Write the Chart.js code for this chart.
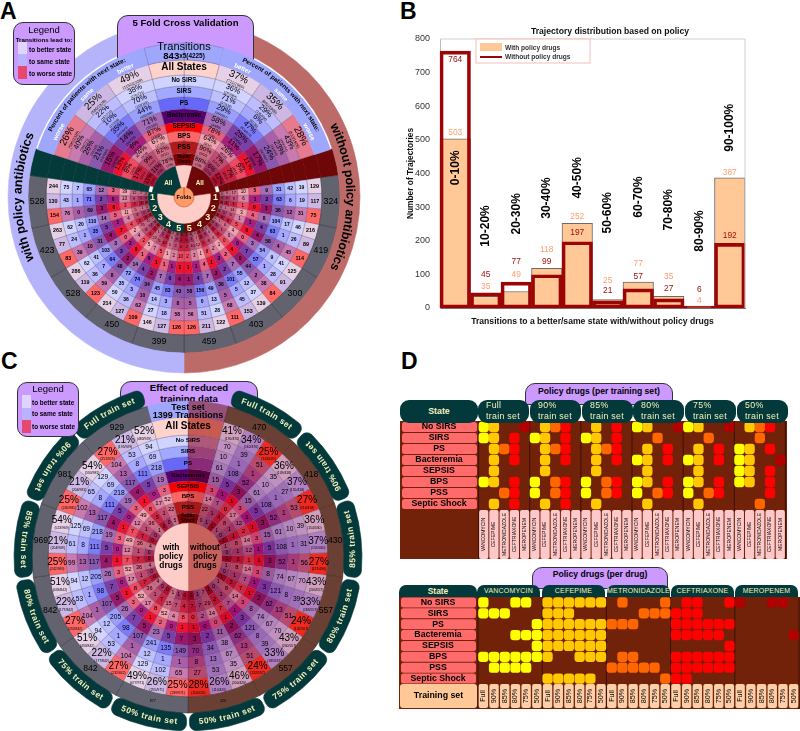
<!DOCTYPE html>
<html>
<head>
<meta charset="utf-8">
<title>Policy figure</title>
<script src="https://cdn.jsdelivr.net/npm/chart.js@4"></script>
<style>
html, body { margin: 0; background: #fff; }
body { position: relative; width: 800px; height: 731px; overflow: hidden; font-family: "Liberation Sans", sans-serif; color: #000; }
canvas { position: absolute; }
.box { position: absolute; box-sizing: border-box; }
.purple { background: #cc99ff; border: 1px solid #333; text-align: center; font-weight: bold; }
.teal { background: #03393a; color: #f6f2bb; font-weight: bold; }
.letter { position: absolute; font-size: 23px; font-weight: bold; line-height: 23px; }
.swatch { position: absolute; width: 9px; }
.item { position: absolute; font-size: 6.4px; font-weight: bold; white-space: nowrap; }
</style>
</head>
<body>
<div class="letter" style="left:0;top:0">A</div>
<div class="letter" style="left:400px;top:0">B</div>
<div class="letter" style="left:1px;top:350px">C</div>
<div class="letter" style="left:401px;top:350px">D</div>

<canvas id="wheelA1" style="z-index:1"></canvas>
<div class="box purple" style="left:117px;top:15px;width:137px;height:60px;border-radius:11px 11px 0 0;font-size:9.6px;padding-top:1px;z-index:2">5 Fold Cross Validation</div>
<canvas id="wheelA2" style="z-index:3"></canvas>
<div class="box purple" style="left:13px;top:22px;width:62px;height:63px;border-radius:10px;z-index:4">
  <div style="font-size:9.5px;line-height:11px;font-weight:normal;margin-top:1px">Legend</div>
  <div style="font-size:6.2px;line-height:9px;white-space:nowrap">Transitions lead to:</div>
  <div class="swatch" style="left:4px;top:19px;height:12px;background:#dfd5ff"></div>
  <div class="swatch" style="left:4px;top:31px;height:12px;background:#b9b2ff"></div>
  <div class="swatch" style="left:4px;top:43px;height:13px;background:#e8476f"></div>
  <div class="item" style="left:15px;top:23px">to better state</div>
  <div class="item" style="left:15px;top:35px">to same state</div>
  <div class="item" style="left:15px;top:47px">to worse state</div>
</div>

<canvas id="trajectoryChart" width="360" height="307" style="left:400px;top:20px"></canvas>

<div class="box purple" style="left:120px;top:381px;width:138px;height:50px;border-radius:11px 11px 0 0;font-size:9.6px;line-height:11px;z-index:1">Effect of reduced<br>training data</div>
<canvas id="wheelC" style="z-index:2"></canvas>
<div class="box purple" style="left:17px;top:382px;width:62px;height:55px;border-radius:10px;z-index:4">
  <div style="font-size:9.5px;line-height:11px;font-weight:normal">Legend</div>
  <div class="swatch" style="left:4px;top:12px;height:13px;background:#dfd5ff"></div>
  <div class="swatch" style="left:4px;top:25px;height:12px;background:#b9b2ff"></div>
  <div class="swatch" style="left:4px;top:37px;height:13px;background:#e8476f"></div>
  <div class="item" style="left:14px;top:16px">to better state</div>
  <div class="item" style="left:14px;top:27px">to same state</div>
  <div class="item" style="left:14px;top:40px">to worse state</div>
</div>

<div class="box purple" style="left:525px;top:383px;width:148px;height:22px;border-radius:10px 10px 0 0;font-size:8.6px;padding-top:2px">Policy drugs (per training set)</div>
<div id="headerTrain"></div>
<canvas id="policyTrain" width="387" height="138" style="left:400px;top:421px;background:#722208"></canvas>

<div class="box purple" style="left:532px;top:567px;width:136px;height:22px;border-radius:10px 10px 0 0;font-size:8.6px;padding-top:1px">Policy drugs (per drug)</div>
<div id="headerDrug"></div>
<canvas id="policyDrug" width="401" height="112" style="left:399px;top:597px;background:#722208"></canvas>

<script>
// ---------- panel A data ----------
const foldTotalsRight = ['324', '419', '300', '403', '459'];
const foldTotalsLeft = ['528', '423', '528', '450', '399'];
// rows run fold 1 better/same/worse ... fold 5 better/same/worse
const countsLeftA = [
    [244, 75, 7, 65, 12, 3, 39, 12, 2, 0], [130, 43, 1, 71, 2, 0, 13, 9, 1, 0], [154, 76, 0, 69, 3, 8, 3, 2, 1, 0],
    [263, 62, 20, 110, 14, 5, 11, 5, 1, 0], [77, 24, 1, 35, 5, 1, 4, 3, 1, 0], [83, 39, 10, 31, 4, 7, 4, 5, 0, 0],
    [286, 62, 41, 103, 3, 0, 2, 35, 10, 0], [119, 36, 7, 64, 3, 2, 4, 8, 1, 0], [123, 59, 8, 48, 2, 0, 2, 4, 1, 0],
    [214, 50, 35, 72, 14, 1, 5, 22, 1, 0], [127, 36, 3, 74, 4, 0, 7, 5, 1, 0], [109, 62, 10, 34, 2, 1, 5, 10, 0, 0],
    [146, 27, 14, 45, 7, 1, 1, 5, 0, 0], [127, 18, 3, 83, 0, 1, 2, 2, 0, 0], [126, 58, 8, 43, 4, 1, 10, 0, 1, 0],
];
const countsRightA = [
    [129, 19, 42, 31, 9, 5, 10, 17, 0, 0], [117, 19, 6, 63, 2, 1, 6, 9, 0, 0], [75, 31, 12, 36, 1, 0, 1, 3, 1, 0],
    [216, 46, 17, 104, 8, 4, 3, 14, 1, 0], [89, 26, 1, 63, 4, 1, 1, 5, 1, 0], [114, 45, 4, 58, 4, 0, 5, 8, 0, 0],
    [125, 41, 9, 54, 3, 0, 4, 6, 1, 0], [91, 28, 1, 57, 7, 0, 0, 1, 2, 0], [84, 38, 2, 44, 0, 4, 0, 0, 1, 0],
    [139, 37, 12, 55, 7, 2, 1, 6, 0, 0], [153, 45, 5, 101, 2, 3, 2, 8, 0, 1], [111, 68, 5, 36, 3, 1, 8, 5, 0, 0],
    [122, 28, 13, 49, 7, 4, 1, 12, 1, 0], [211, 51, 0, 156, 4, 1, 3, 10, 1, 0], [126, 56, 5, 58, 1, 1, 2, 2, 0, 1],
];
const leftBetterPct = ['49%', '38%', '70%', '44%', '71%', '87%', '67%', '82%', '78%'];
const leftSamePct = ['25%', '22%', '10%', '35%', '14%', '6%', '24%', '9%', '11%'];
const leftWorsePct = ['26%', '40%', '26%', '21%', '15%', '13%', '8%', '17%', '11%'];
const rightBetterPct = ['37%', '36%', '71%', '29%', '58%', '78%', '64%', '90%', '88%'];
const rightSamePct = ['35%', '29%', '6%', '47%', '25%', '11%', '26%', '7%', '6%'];
const rightWorsePct = ['28%', '43%', '23%', '24%', '17%', '11%', '9%', '7%', '12%'];
const leftBetterN = ['(1153/2328)', '(276/721)', '(119/169)', '(430/980)', '(73/103)', '(13/15)', '(17/25)', '(9/11)', '(7/9)'];
const leftSameN = ['(580/2328)', '(157/721)', '(17/169)', '(343/980)', '(14/103)', '(1/15)', '(6/25)', '(1/11)', '(1/9)'];
const leftWorseN = ['(595/2328)', '(288/721)', '(33/169)', '(207/980)', '(16/103)', '(2/15)', '(2/25)', '(2/11)', '(1/9)'];
const rightBetterN = ['(711/1905)', '(167/464)', '(97/136)', '(264/907)', '(34/58)', '(7/9)', '(9/14)', '(9/10)', '(7/8)'];
const rightSameN = ['(661/1905)', '(135/464)', '(8/136)', '(426/907)', '(15/58)', '(1/9)', '(4/14)', '(1/10)', '(1/16)'];
const rightWorseN = ['(533/1905)', '(199/464)', '(31/136)', '(217/907)', '(10/58)', '(1/9)', '(1/14)', '(1/14)', '(1/8)'];

// ---------- panel B data ----------
const rangeLabels = ['0-10%', '10-20%', '20-30%', '30-40%', '40-50%', '50-60%', '60-70%', '70-80%', '80-90%', '90-100%'];
const withPolicy = [503, 35, 49, 118, 252, 25, 77, 35, 4, 387];
const withoutPolicy = [764, 45, 77, 99, 197, 21, 57, 27, 6, 192];

// ---------- panel C data ----------
const trainTotalsRight = ['470', '418', '430', '557', '557', '426'];
const trainTotalsLeft = ['929', '981', '969', '842', '842', '877'];
const trainNames = ['Full train set', '90% train set', '85% train set', '80% train set', '75% train set', '50% train set'];
const reducedLeftPct = ['52%', '21%', '27%', '54%', '21%', '25%', '54%', '21%', '25%', '51%', '22%', '27%', '51%', '22%', '27%', '49%', '26%', '25%'];
const reducedLeftN = ['(483/929)', '(195/929)', '(251/929)', '(530/981)', '(206/981)', '(245/981)', '(523/969)', '(204/969)', '(242/969)', '(433/842)', '(177/842)', '(232/842)', '(433/842)', '(177/842)', '(232/842)', '(477/971)', '(255/971)', '(239/971)'];
const reducedRightPct = ['41%', '34%', '25%', '36%', '37%', '27%', '36%', '37%', '27%', '43%', '33%', '24%', '43%', '33%', '24%', '46%', '26%', '28%'];
const reducedRightN = ['(195/470)', '(162/470)', '(113/470)', '(149/418)', '(155/418)', '(114/418)', '(154/430)', '(159/430)', '(117/430)', '(240/557)', '(185/557)', '(132/557)', '(240/557)', '(185/557)', '(132/557)', '(200/426)', '(110/426)', '(116/426)'];
const reducedLeft = [
    [94, 69, 218, 19, 3, 52, 22, 5], [53, 8, 111, 5, 0, 17, 1, 0], [104, 13, 117, 4, 1, 8, 5, 0],
    [129, 69, 218, 19, 3, 49, 36, 1], [65, 8, 111, 5, 0, 12, 1, 0], [102, 13, 117, 4, 1, 7, 7, 0],
    [125, 69, 218, 19, 3, 49, 36, 4], [61, 8, 111, 5, 0, 12, 1, 0], [99, 13, 117, 4, 1, 7, 7, 0],
    [94, 12, 205, 26, 3, 52, 36, 4], [53, 1, 98, 7, 0, 17, 1, 0], [104, 1, 107, 5, 1, 8, 7, 0],
    [94, 12, 205, 26, 3, 52, 36, 4], [53, 1, 98, 7, 0, 17, 1, 0], [104, 1, 107, 5, 1, 8, 7, 0],
    [129, 12, 241, 23, 2, 52, 15, 1], [102, 1, 135, 5, 0, 4, 7, 1], [65, 1, 149, 7, 1, 8, 4, 0],
];
const reducedRight = [
    [70, 10, 61, 15, 3, 14, 22, 0], [39, 1, 108, 5, 1, 7, 1, 1], [51, 1, 52, 3, 1, 0, 4, 1],
    [35, 10, 61, 15, 3, 17, 8, 1], [27, 1, 108, 5, 1, 12, 1, 0], [53, 1, 52, 3, 1, 2, 1, 1],
    [39, 10, 61, 15, 3, 14, 8, 1], [31, 1, 108, 5, 1, 12, 1, 0], [56, 1, 52, 3, 1, 1, 2, 1],
    [70, 67, 74, 8, 3, 14, 8, 1], [39, 8, 121, 3, 1, 7, 1, 0], [51, 13, 62, 2, 1, 7, 2, 1],
    [70, 67, 74, 8, 3, 14, 8, 1], [39, 8, 121, 3, 1, 7, 1, 0], [51, 13, 62, 2, 1, 7, 2, 1],
    [35, 67, 38, 11, 0, 14, 29, 7], [53, 13, 34, 2, 0, 2, 7, 1], [27, 8, 70, 3, 1, 0, 7, 2],
];

// ---------- panel D data ----------
const states = ['No SIRS', 'SIRS', 'PS', 'Bacteremia', 'SEPSIS', 'BPS', 'PSS', 'Septic Shock'];
const drugs = ['VANCOMYCIN', 'CEFEPIME', 'METRONIDAZOLE', 'CEFTRIAXONE', 'MEROPENEM'];
const trainSets = ['Full', '90%', '85%', '80%', '75%', '50%'];
// for every state: the training sets (index into trainSets) that use the drug
const vancomycin = [[0, 3, 4], [0, 1, 2], [5], [3, 4, 5], [5], [0, 1, 2, 3, 4, 5], [1, 2, 3, 4], []];
const cefepime = [[0, 1, 2, 3, 4, 5], [0, 1, 2], [0, 1, 2, 3, 4, 5], [0, 1, 2, 3, 4, 5], [0, 1, 2, 3, 4, 5], [0, 3, 4, 5], [], [0, 1, 2, 3, 4]];
const metronidazole = [[1, 5], [3, 4, 5], [0, 1, 2], [], [], [1, 2], [0, 1, 2, 3, 4], [5]];
const ceftriaxone = [[1, 2, 5], [0, 1, 2], [0, 1, 2, 3, 4, 5], [0, 1, 2, 3, 4], [5], [0, 1, 2, 3, 4, 5], [0, 1, 2, 3, 4, 5], [0, 1]];
const meropenem = [[0, 3, 4], [], [], [5], [], [], [], []];

// ---------- styles ----------
const none = 'rgba(0,0,0,0)';
const ink = '#000';
const cream = '#f6f2bb';
const seam = 'rgba(70,60,90,0.45)';
const betterShade = ['#e6d0e6', '#d2d4ff', '#bcc0ff', '#9a9efc', '#a66cb6', '#e9607f', '#f2a0ad', '#d66a84', '#c86a84', '#c06070'];
const sameShade = ['#ccb8e2', '#bcbcff', '#a6a8ff', '#7c7cfa', '#7a3fa8', '#a81f80', '#dd7fa0', '#c04a70', '#a83060', '#a03050'];
const worseShade = ['#ff6666', '#c97ab0', '#aa60a8', '#8b58b0', '#98186c', '#f01030', '#ef4a60', '#cc2040', '#b01030', '#a01020'];
const shades = [betterShade, sameShade, worseShade];
const darkBetter = ['#cf9fbc', '#c090c0', '#b585bd', '#a878b8', '#9b5aa0', '#d04070', '#d07090', '#b84060', '#a84060'];
const darkSame = ['#b080c0', '#a070b8', '#9a68b8', '#8a58b0', '#7a3098', '#a01070', '#b04880', '#a03060', '#903060'];
const darkWorse = ['#ee2a20', '#b84a70', '#a83a78', '#8f2c80', '#8c1058', '#d80828', '#d02840', '#b81030', '#980020'];
const darkShades = [darkBetter, darkSame, darkWorse];
const stateRow = ['#ffd3cb', '#cfd3ff', '#a0a8ff', '#6868f8', '#5a0070', '#ff0000', '#ff6666', '#b01a1a', '#8b0000'];
const stateRowDark = ['#c85a50', '#b05878', '#9c4078', '#8a2a78', '#5a0040', '#ee0000', '#e04a4a', '#a81818', '#800000'];
const drugColors = ['#ffff00', '#ffc800', '#ff6600', '#ff0000', '#b00000'];

Chart.defaults.font.family = '"Liberation Sans", sans-serif';

// ---------- helpers ----------
function fontOf(size, bold) {
    return (bold ? 'bold ' : '') + size + 'px "Liberation Sans", sans-serif';
}

function paintLines(ctx, x, y, lines, rot) {
    const total = lines.reduce((a, l) => a + (l.lead || l.size * 1.08), 0);
    ctx.save();
    ctx.translate(x, y);
    ctx.rotate(rot || 0);
    ctx.textAlign = 'center';
    ctx.textBaseline = 'middle';
    let top = -total / 2;
    lines.forEach(l => {
        const lead = l.lead || l.size * 1.08;
        ctx.fillStyle = l.color || ink;
        ctx.font = fontOf(l.size, l.bold);
        if (l.tail) {
            // big figure followed by a small one on the same line
            const w1 = ctx.measureText(l.s).width;
            ctx.font = fontOf(l.tailSize, l.bold);
            const w2 = ctx.measureText(l.tail).width;
            ctx.textAlign = 'left';
            ctx.fillText(l.tail, -(w1 + w2) / 2 + w1, top + lead / 2);
            ctx.font = fontOf(l.size, l.bold);
            ctx.fillText(l.s, -(w1 + w2) / 2, top + lead / 2);
            ctx.textAlign = 'center';
        } else {
            ctx.fillText(l.s, 0, top + lead / 2);
        }
        top += lead;
    });
    ctx.restore();
}

function curvedText(ctx, cx, cy, t) {
    ctx.save();
    ctx.font = t.font;
    ctx.fillStyle = t.color || ink;
    ctx.textAlign = 'center';
    ctx.textBaseline = 'middle';
    const gap = t.gap || 0;
    const widths = [...t.text].map(c => ctx.measureText(c).width + gap);
    const full = widths.reduce((a, b) => a + b, 0);
    const sign = t.ccw ? -1 : 1;
    let run = -full / 2;
    [...t.text].forEach((c, i) => {
        const a = t.mid * Math.PI / 180 + sign * (run + widths[i] / 2) / t.r;
        ctx.save();
        ctx.translate(cx + t.r * Math.sin(a), cy - t.r * Math.cos(a));
        ctx.rotate(t.ccw ? a + Math.PI : a);
        ctx.fillText(c, 0, 0);
        ctx.restore();
        run += widths[i];
    });
    ctx.restore();
}

function ring(weight, sectors, extra) {
    return Object.assign({
        weight: weight,
        data: sectors.map(s => s.span),
        backgroundColor: sectors.map(s => s.color || none),
        borderColor: sectors.map(s => s.line || s.color || none),
        borderWidth: sectors.map(s => s.color ? 0.6 : 0),
        sectors: sectors,
    }, extra || {});
}

function makeWheel(id, cx, cy, R, datasets, arcTexts) {
    const el = document.getElementById(id);
    const size = 2 * R + 4;
    el.width = size;
    el.height = size;
    el.style.left = (cx - R - 2) + 'px';
    el.style.top = (cy - R - 2) + 'px';
    return new Chart(el, {
        type: 'doughnut',
        data: { labels: datasets[0].data.map((d, i) => i), datasets: datasets },
        options: {
            responsive: false,
            animation: false,
            events: [],
            radius: R,
            cutout: 0,
            plugins: { legend: { display: false }, tooltip: { enabled: false } },
        },
        plugins: [{
            id: 'wheelText',
            afterDatasetsDraw(chart) {
                const ctx = chart.ctx;
                chart.data.datasets.forEach((ds, di) => {
                    chart.getDatasetMeta(di).data.forEach((arc, i) => {
                        const sec = ds.sectors[i];
                        if (sec.lines) {
                            const p = arc.getCenterPoint();
                            const mid = (arc.startAngle + arc.endAngle) / 2;
                            paintLines(ctx, p.x, p.y, sec.lines, sec.turn ? mid + Math.PI / 2 : 0);
                        }
                        if (sec.top) {
                            paintLines(ctx, arc.x, arc.y - (arc.innerRadius + arc.outerRadius) / 2 + (sec.topShift || 0), sec.top, 0);
                        }
                    });
                });
                const a0 = chart.getDatasetMeta(0).data[0];
                (arcTexts || []).forEach(t => curvedText(ctx, a0.x, a0.y, t));
            },
        }],
    });
}

// ---------- panel A wheels ----------
const FOLD_SWEEP = 98 / 15;   // one better/same/worse wedge of a fold
const gapA = { span: 72 };
const wedgeRight = '#6e0707';
const wedgeLeft = '#043b3a';

function lowerCells(col) {
    const size = [5.4, 5, 5, 5, 5, 4.8, 4.5, 4, 3.4, 3][col];
    const cell = (row, i) => ({
        span: FOLD_SWEEP,
        color: shades[i % 3][col],
        line: seam,
        lines: [{ s: String(row[col]), size: size, bold: col < 6 }],
    });
    const right = countsRightA.map(cell);
    // going on clockwise: fold 5 worse first, fold 1 better last
    const left = countsLeftA.map(cell).reverse();
    return [gapA, { span: 10, color: wedgeRight }, ...right, ...left, { span: 10, color: wedgeLeft }, gapA];
}

const foldNums = [1, 2, 3, 4, 5];
const wheelALower = [
    ring(20, [{ span: 180, color: '#bd6b69' }, { span: 180, color: '#b5b4fb' }]),
    ring(18, [gapA, { span: 10, color: wedgeRight },
        ...foldTotalsRight.map(t => ({ span: FOLD_SWEEP * 3, color: '#62636f', line: '#3c3d47', lines: [{ s: t, size: 8.8 }] })),
        ...foldTotalsLeft.slice().reverse().map(t => ({ span: FOLD_SWEEP * 3, color: '#62636f', line: '#3c3d47', lines: [{ s: t, size: 8.8 }] })),
        { span: 10, color: wedgeLeft }, gapA]),
    ...[14, 12, 11, 12, 12, 12, 11, 8, 6, 4].map((w, c) => ring(w, lowerCells(c))),
    ring(9, [{ span: 82 },
        ...foldNums.map(n => ({ span: FOLD_SWEEP * 3, color: wedgeRight, lines: [{ s: String(n), size: 9, bold: true, color: cream }] })),
        ...foldNums.slice().reverse().map(n => ({ span: FOLD_SWEEP * 3, color: wedgeLeft, lines: [{ s: String(n), size: 9, bold: true, color: cream }] })),
        { span: 82 }]),
    ring(27, [{ span: 82 }, { span: 196, color: '#ffcdc8' }, { span: 82 }]),
];

makeWheel('wheelA1', 184, 197, 176, wheelALower, [
    { text: 'without policy antibiotics', r: 166, mid: 90, font: fontOf(12.6, true) },
    { text: 'with policy antibiotics', r: 166, mid: 270, font: fontOf(12.6, true) },
]);

const pctSizeA = [10, 7.6, 7.6, 7.6, 7.6, 7, 7, 6.5, 6];
function upperRow(r, middle) {
    const cell = (pct, n, k) => ({
        span: 19,
        color: r === 0 && k === 2 ? '#e87a90' : shades[k][r],
        line: seam,
        turn: true,
        lines: [{ s: pct[r], size: pctSizeA[r] }, { s: n[r], size: r === 0 ? 4 : 3.3 }],
    });
    const mid2 = Object.assign({}, middle);
    delete mid2.top;
    return [middle,
        cell(rightBetterPct, rightBetterN, 0), cell(rightSamePct, rightSameN, 1), cell(rightWorsePct, rightWorseN, 2),
        { span: 216 },
        cell(leftWorsePct, leftWorseN, 2), cell(leftSamePct, leftSameN, 1), cell(leftBetterPct, leftBetterN, 0),
        mid2];
}
const middleLabel = (text, size, bold) => [{ s: text, size: size, bold: bold }];
const bandA = '#9fa7fd';
const wheelAUpper = [
    ring(17, [{ span: 15, color: bandA, line: seam,
        top: [{ s: 'Transitions', size: 11, lead: 9 }, { s: '843', size: 9.6, tail: 'x5(4225)', tailSize: 6.4, bold: true, lead: 9 }] },
        { span: 57, color: bandA }, { span: 216 }, { span: 57, color: bandA }, { span: 15, color: bandA, line: seam }]),
    ring(15, upperRow(0, { span: 15, color: stateRow[0], line: seam, top: middleLabel('All States', 10, true) })),
    ring(11, upperRow(1, { span: 15, color: stateRow[1], line: seam, top: middleLabel(states[0], 6.4, true) })),
    ring(11, upperRow(2, { span: 15, color: stateRow[2], line: seam, top: middleLabel(states[1], 6.4, true) })),
    ring(12, upperRow(3, { span: 15, color: stateRow[3], line: seam, top: middleLabel(states[2], 6.4, true) })),
    ring(13, upperRow(4, { span: 15, color: stateRow[4], line: seam, top: middleLabel(states[3], 6.4, true) })),
    ring(9, upperRow(5, { span: 15, color: stateRow[5], line: seam, top: middleLabel(states[4], 6.4, true) })),
    ring(10, upperRow(6, { span: 15, color: stateRow[6], line: seam, top: middleLabel(states[5], 6.4, true) })),
    ring(12, upperRow(7, { span: 15, color: stateRow[7], line: seam, top: middleLabel(states[6], 6.4, true) })),
    ring(12, upperRow(8, { span: 15, color: stateRow[8], line: seam, top: [{ s: 'Septic', size: 4.6, bold: true }, { s: 'Shock', size: 4.6, bold: true }] })),
    ring(22, [{ span: 15, color: '#ffcdc8' },
        { span: 67, color: wedgeRight, lines: [{ s: 'All', size: 6.4, bold: true, color: cream }] },
        { span: 196 },
        { span: 67, color: wedgeLeft, lines: [{ s: 'All', size: 6.4, bold: true, color: cream }] },
        { span: 15, color: '#ffcdc8' }]),
    ring(10, [{ span: 360, color: '#ff9a66', line: '#b85a20', top: [{ s: 'Folds', size: 5.6, bold: true }], topShift: 5 }]),
];

const ringBold = fontOf(6.4, true);
makeWheel('wheelA2', 184, 197, 154, wheelAUpper, [
    { text: 'Percent of patients with next state:', r: 149, mid: 316.5, font: ringBold },
    { text: 'Percent of patients with next state:', r: 149, mid: 43.5, font: ringBold },
    { text: 'better', r: 141, mid: 335.5, font: ringBold, color: '#fff' },
    { text: 'same', r: 141, mid: 316.5, font: ringBold, color: '#fff' },
    { text: 'worse', r: 141, mid: 297.5, font: ringBold, color: '#fff' },
    { text: 'better', r: 141, mid: 24.5, font: ringBold, color: '#fff' },
    { text: 'same', r: 141, mid: 43.5, font: ringBold, color: '#fff' },
    { text: 'worse', r: 141, mid: 62.5, font: ringBold, color: '#fff' },
]);

// ---------- panel C wheel ----------
const TRAIN_SWEEP = 165 / 18;
const countSize = [6.6, 6.6, 6.6, 6.6, 6.2, 6, 5.6, 5];

function reducedRing(col) {
    // col 0 is the "All States" ring, the others are the eight states
    const rightCell = (rowIdx) => {
        const lines = col === 0
            ? [{ s: reducedRightPct[rowIdx], size: 10 }, { s: reducedRightN[rowIdx], size: 3.4 }]
            : [{ s: String(reducedRight[rowIdx][col - 1]), size: countSize[col - 1] }];
        return { span: TRAIN_SWEEP, color: darkShades[rowIdx % 3][col], line: seam, lines: lines };
    };
    const leftCell = (rowIdx) => {
        const lines = col === 0
            ? [{ s: reducedLeftPct[rowIdx], size: 10 }, { s: reducedLeftN[rowIdx], size: 3.4 }]
            : [{ s: String(reducedLeft[rowIdx][col - 1]), size: countSize[col - 1] }];
        return { span: TRAIN_SWEEP, color: shades[rowIdx % 3][col], line: seam, lines: lines };
    };
    const right = reducedRight.map((r, i) => rightCell(i));
    const left = reducedLeft.map((r, i) => leftCell(i)).reverse();
    const midLabel = col === 0 ? middleLabel('All States', 10, true) : col === 8
        ? [{ s: 'Septic', size: 4.6, bold: true }, { s: 'Shock', size: 4.6, bold: true }]
        : middleLabel(states[col - 1], 6.2, true);
    return [{ span: 15, color: stateRowDark[col], line: seam }, ...right, ...left,
        { span: 15, color: stateRow[col], line: seam, top: midLabel }];
}

const tabSectors = () => trainNames.map(() => [{ span: 26.5, color: '#03393a' }, { span: 1 }]).flat();
const wheelCData = [
    ring(18, [{ span: 15.5 }, ...tabSectors(), { span: 0 }, ...tabSectors(), { span: 14.5 }], { borderRadius: 7 }),
    ring(16, [{ span: 15, color: '#98507c' },
        ...trainTotalsRight.map((t, i) => ({ span: TRAIN_SWEEP * 3, color: '#6b4034', line: '#4a2a22', lines: [{ s: t, size: i === 5 ? 3.6 : 8.6 }] })),
        ...trainTotalsLeft.slice().reverse().map((t, i) => ({ span: TRAIN_SWEEP * 3, color: '#62636f', line: '#3c3d47', lines: [{ s: t, size: i === 0 ? 3.6 : 8.6 }] })),
        { span: 15, color: bandA, top: [{ s: 'Test set', size: 9, bold: true, lead: 8 }, { s: '1399 Transitions', size: 9, bold: true, lead: 8 }], topShift: 3 }]),
    ...[18, 11, 11, 12, 12, 10, 10, 12, 10].map((w, c) => ring(w, reducedRing(c))),
    ring(34, [{ span: 180, color: '#c8605c', lines: [{ s: 'without', size: 8.4, bold: true }, { s: 'policy', size: 8.4, bold: true }, { s: 'drugs', size: 8.4, bold: true }] },
        { span: 180, color: '#ffcdc8', lines: [{ s: 'with', size: 8.4, bold: true }, { s: 'policy', size: 8.4, bold: true }, { s: 'drugs', size: 8.4, bold: true }] }]),
];

const tabFont = fontOf(8.4, true);
const tabTexts = trainNames.map((name, i) => ({
    text: name, r: 165, mid: 15 + 13.75 + i * 27.5, font: tabFont, color: cream, gap: 0.5, ccw: i > 0,
})).concat(trainNames.map((name, i) => ({
    text: name, r: 165, mid: 345 - 13.75 - i * 27.5, font: tabFont, color: cream, gap: 0.5, ccw: i > 0,
})));

makeWheel('wheelC', 188, 557, 174, wheelCData, tabTexts);

// ---------- panel B bars ----------
// where the text of each bar sits, in axis units
const withLabelAt = [521, 62, 98, 173, 271, 80, 131, 92, 21, 402];
const withoutLabelAt = [738, 98, 137, 137, 223, 51, 92, 56, 53, 214];
const rangeLabelAt = [417, 244, 280, 327, 387, 283, 330, 292, 229, 536];

new Chart(document.getElementById('trajectoryChart'), {
    type: 'bar',
    data: {
        labels: rangeLabels,
        datasets: [
            {
                label: 'Without policy drugs',
                data: withoutPolicy,
                backgroundColor: none,
                borderColor: '#9c0505',
                borderWidth: 3,
                borderSkipped: false,
                grouped: false,
                barPercentage: 1,
                categoryPercentage: 1,
                order: 1,
            },
            {
                label: 'With policy drugs',
                data: withPolicy,
                backgroundColor: '#ffc896',
                borderColor: '#6a6a6a',
                borderWidth: { top: 1, right: 1, left: 1, bottom: 0 },
                borderSkipped: false,
                grouped: false,
                barPercentage: 1,
                categoryPercentage: 1,
                order: 2,
            },
        ],
    },
    options: {
        responsive: false,
        animation: false,
        events: [],
        clip: false,
        layout: { padding: { top: 19, right: 15, left: 6 } },
        plugins: { legend: { display: false }, tooltip: { enabled: false } },
        scales: {
            x: {
                grid: { display: false },
                border: { color: '#777' },
                ticks: { display: false },
                title: { display: true, text: 'Transitions to a better/same state with/without policy drugs', font: { size: 8.6, weight: 'bold' }, color: '#111', padding: { top: 2, bottom: 0 } },
                afterFit(s) { s.height = 19; },
            },
            y: {
                min: 0,
                max: 800,
                grid: { display: false },
                border: { color: '#bbb' },
                ticks: { stepSize: 100, font: { size: 9 }, color: '#333', padding: 2 },
                title: { display: true, text: 'Number of Trajectories', font: { size: 8.4, weight: 'bold' }, color: '#111', padding: 0 },
                afterFit(s) { s.width = 34; },
            },
        },
    },
    plugins: [{
        id: 'barText',
        afterDraw(chart) {
            const ctx = chart.ctx;
            const { left, right, top } = chart.chartArea;
            const x = chart.scales.x;
            const y = chart.scales.y;
            ctx.save();
            ctx.strokeStyle = '#cfcfcf';
            ctx.lineWidth = 1;
            ctx.beginPath();
            ctx.moveTo(left, top);
            ctx.lineTo(right, top);
            ctx.lineTo(right, y.getPixelForValue(0));
            ctx.stroke();
            ctx.restore();
            paintLines(ctx, 210, 12, [{ s: 'Trajectory distribution based on policy', size: 8.6, bold: true, color: '#111' }]);
            rangeLabels.forEach((name, i) => {
                const px = x.getPixelForValue(i);
                paintLines(ctx, px, y.getPixelForValue(rangeLabelAt[i]), [{ s: name, size: 12, bold: true }], -Math.PI / 2);
                paintLines(ctx, px, y.getPixelForValue(withLabelAt[i]), [{ s: String(withPolicy[i]), size: 8.4, color: '#ff9e6e' }]);
                paintLines(ctx, px, y.getPixelForValue(withoutLabelAt[i]), [{ s: String(withoutPolicy[i]), size: 8.4, color: '#a01010' }]);
            });
            // legend box
            const bx = 76, by = 19;
            ctx.save();
            ctx.fillStyle = 'rgba(255,255,255,0.85)';
            ctx.strokeStyle = '#f6bcbc';
            ctx.lineWidth = 1;
            ctx.fillRect(bx, by, 114, 24);
            ctx.strokeRect(bx, by, 114, 24);
            ctx.fillStyle = '#ffc896';
            ctx.fillRect(bx + 4, by + 4, 22, 8);
            ctx.fillStyle = '#9c0505';
            ctx.fillRect(bx + 4, by + 17, 22, 2);
            ctx.textAlign = 'left';
            ctx.textBaseline = 'middle';
            ctx.font = fontOf(6.6, true);
            ctx.fillStyle = '#333';
            ctx.fillText('With policy drugs', bx + 29, by + 9);
            ctx.fillText('Without policy drugs', bx + 29, by + 18);
            ctx.restore();
        },
    }],
});

// ---------- panel D matrices ----------
function matrixPlugin(groupSize, bottom) {
    return {
        id: 'matrixText',
        beforeDatasetsDraw(chart) {
            const ctx = chart.ctx;
            const x = chart.scales.x;
            const h = chart.height;
            ctx.save();
            ctx.strokeStyle = '#3a1003';
            ctx.lineWidth = 1;
            for (let c = 0; c <= 30; c += groupSize) {
                const px = x.getPixelForValue(c - 0.5);
                ctx.beginPath();
                ctx.moveTo(px, 0);
                ctx.lineTo(px, h);
                ctx.stroke();
            }
            ctx.restore();
        },
        afterDraw(chart) {
            const ctx = chart.ctx;
            const x = chart.scales.x;
            const y = chart.scales.y;
            states.forEach((s, i) => {
                const py = y.getPixelForValue(i);
                ctx.save();
                ctx.fillStyle = '#ff6b6b';
                ctx.beginPath();
                ctx.roundRect(2, py - 5, 75, 10, 2.5);
                ctx.fill();
                ctx.restore();
                paintLines(ctx, 39, py, [{ s: s, size: 8.8, bold: true }]);
            });
            bottom(ctx, x, chart.height);
        },
    };
}

function matrixDatasets(place) {
    return [vancomycin, cefepime, metronidazole, ceftriaxone, meropenem].map((table, d) => ({
        label: drugs[d],
        data: table.flatMap((sets, s) => sets.map(t => ({ x: place(t, d), y: s }))),
        pointStyle: 'rectRounded',
        pointRadius: 6,
        backgroundColor: drugColors[d],
        borderWidth: 0,
    }));
}

function makeMatrix(id, padding, datasets, plugin) {
    return new Chart(document.getElementById(id), {
        type: 'scatter',
        data: { datasets: datasets },
        options: {
            responsive: false,
            animation: false,
            events: [],
            clip: false,
            layout: { autoPadding: false, padding: padding },
            plugins: { legend: { display: false }, tooltip: { enabled: false } },
            scales: {
                x: { display: false, min: -0.5, max: 29.5 },
                y: { display: false, min: -0.5, max: 7.5, reverse: true },
            },
        },
        plugins: [plugin],
    });
}

makeMatrix('policyTrain', { left: 78.6, right: 1.6, top: 0.5, bottom: 49.5 },
    matrixDatasets((t, d) => t * 5 + d),
    matrixPlugin(5, (ctx, x) => {
        for (let c = 0; c < 30; c++) {
            const px = x.getPixelForValue(c);
            ctx.save();
            ctx.fillStyle = '#ffc9c9';
            ctx.beginPath();
            ctx.roundRect(px - 4.6, 89, 9.2, 49, 2);
            ctx.fill();
            ctx.restore();
            paintLines(ctx, px, 113.5, [{ s: drugs[c % 5], size: 5 }], -Math.PI / 2);
        }
    }));

makeMatrix('policyDrug', { left: 79, right: 1, top: 0, bottom: 25 },
    matrixDatasets((t, d) => d * 6 + t),
    matrixPlugin(6, (ctx, x) => {
        ctx.save();
        ctx.fillStyle = '#ffc896';
        ctx.beginPath();
        ctx.roundRect(1, 87, 77, 24, 3);
        ctx.fill();
        ctx.restore();
        paintLines(ctx, 39.5, 99, [{ s: 'Training set', size: 8.8, bold: true }]);
        for (let c = 0; c < 30; c++) {
            const px = x.getPixelForValue(c);
            ctx.save();
            ctx.fillStyle = '#ffd0a8';
            ctx.beginPath();
            ctx.roundRect(px - 4.7, 87, 9.4, 24, 2);
            ctx.fill();
            ctx.restore();
            paintLines(ctx, px, 99, [{ s: trainSets[c % 6], size: 7.2 }], -Math.PI / 2);
        }
    }));

// header tabs above the matrices
function addTab(host, left, top, width, height, html, css) {
    const d = document.createElement('div');
    d.className = 'box teal';
    d.style.cssText = `left:${left}px;top:${top}px;width:${width}px;height:${height}px;${css}`;
    d.innerHTML = html;
    document.getElementById(host).appendChild(d);
}
const roundTab = 'border-radius:9px;z-index:2;';
addTab('headerTrain', 400, 400, 78, 23, 'State', roundTab + 'text-align:center;font-size:8.8px;line-height:22px');
[478, 530, 582, 633, 685, 737].forEach((left, i) => {
    addTab('headerTrain', left, 400, 51, 23, trainSets[i] + '<br>train set', roundTab + 'font-size:8.8px;line-height:11px;padding-left:8px;font-weight:normal;letter-spacing:.3px;white-space:nowrap');
});
addTab('headerDrug', 399, 585, 78, 12, 'State', 'border-radius:7px 7px 0 0;z-index:2;text-align:center;font-size:8.4px;line-height:12px');
[477, 542, 607, 671, 735].forEach((left, i) => {
    addTab('headerDrug', left, 585, 63, 12, drugs[i], 'border-radius:7px 7px 0 0;z-index:2;text-align:center;font-size:7px;line-height:12px;font-weight:normal;letter-spacing:.2px;white-space:nowrap');
});
</script>
</body>
</html>
